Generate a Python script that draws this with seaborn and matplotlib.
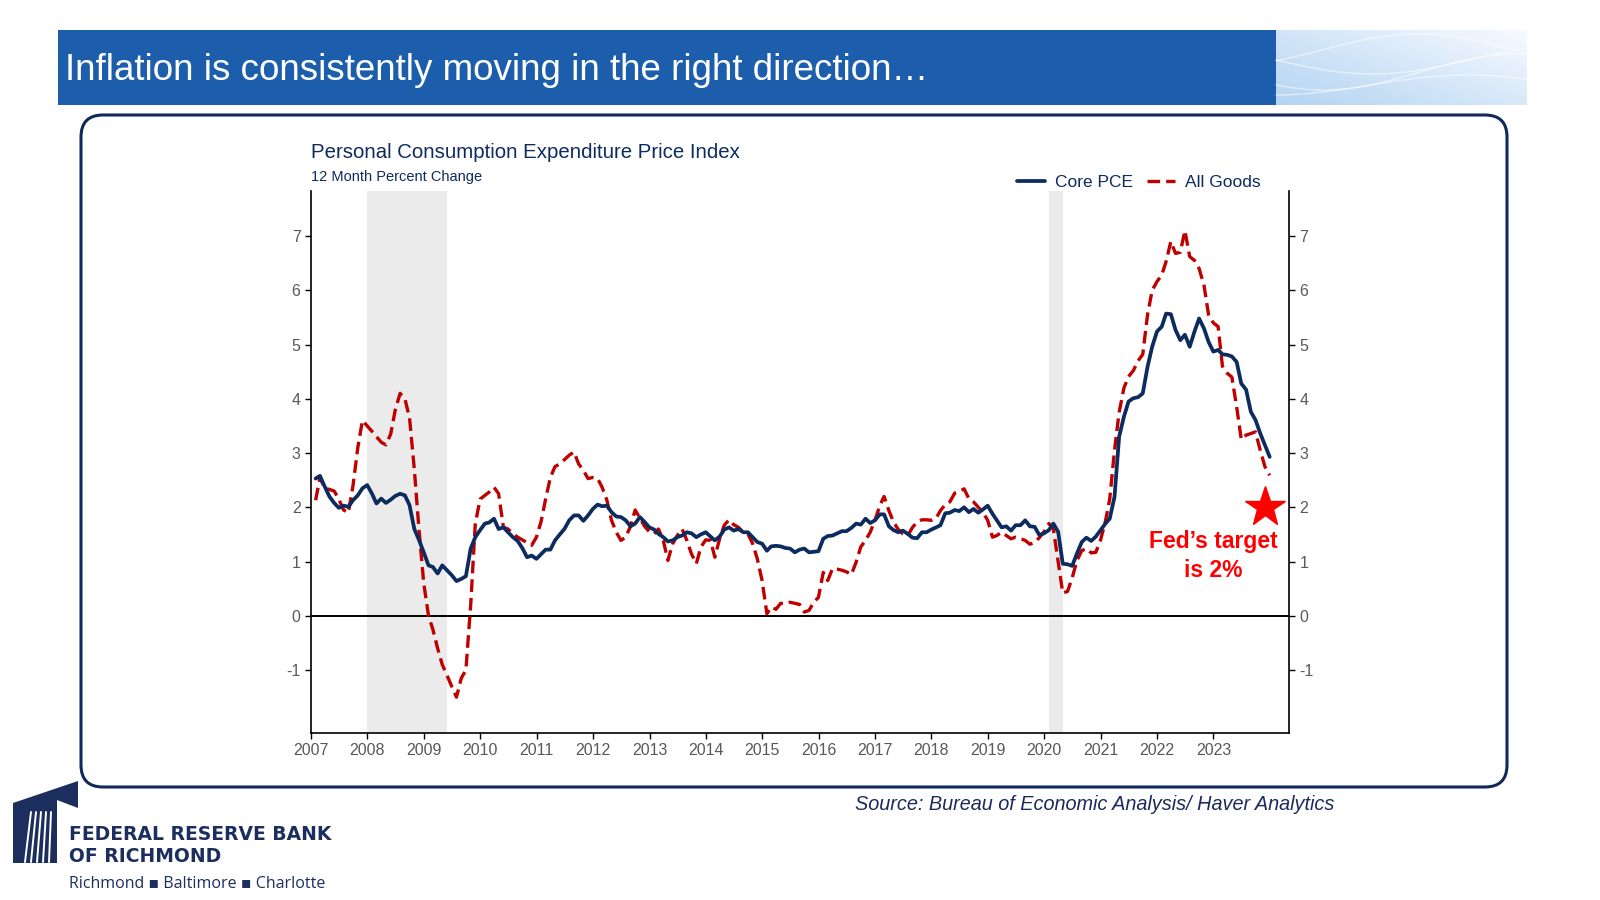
import numpy as np
import pandas as pd
import matplotlib
matplotlib.use('Agg')
import matplotlib.pyplot as plt
from matplotlib.patches import FancyBboxPatch, Rectangle, Polygon
import seaborn as sns

# ---------- data: 12 month percent change, Jan 2007 - Dec 2023 ----------
core_pce = [
    2.53, 2.58, 2.38, 2.20, 2.08, 1.99, 2.03, 2.01, 2.13, 2.22, 2.35, 2.41,  # 2007
    2.25, 2.07, 2.16, 2.08, 2.14, 2.21, 2.25, 2.22, 2.04, 1.60, 1.40, 1.17,  # 2008
    0.93, 0.90, 0.78, 0.93, 0.84, 0.75, 0.64, 0.68, 0.73, 1.24, 1.45, 1.58,  # 2009
    1.70, 1.72, 1.79, 1.60, 1.63, 1.54, 1.45, 1.38, 1.25, 1.08, 1.11, 1.05,  # 2010
    1.14, 1.22, 1.22, 1.39, 1.50, 1.60, 1.76, 1.85, 1.85, 1.75, 1.85, 1.97,  # 2011
    2.05, 2.02, 2.03, 1.91, 1.83, 1.82, 1.76, 1.65, 1.70, 1.82, 1.73, 1.63,  # 2012
    1.59, 1.51, 1.45, 1.37, 1.39, 1.45, 1.48, 1.54, 1.52, 1.45, 1.50, 1.54,  # 2013
    1.46, 1.39, 1.46, 1.59, 1.63, 1.57, 1.60, 1.54, 1.54, 1.45, 1.36, 1.33,  # 2014
    1.20, 1.28, 1.29, 1.28, 1.25, 1.24, 1.17, 1.22, 1.24, 1.17, 1.18, 1.19,  # 2015
    1.42, 1.47, 1.48, 1.52, 1.56, 1.56, 1.62, 1.70, 1.68, 1.79, 1.71, 1.76,  # 2016
    1.87, 1.87, 1.65, 1.58, 1.54, 1.57, 1.51, 1.44, 1.43, 1.54, 1.54, 1.59,  # 2017
    1.63, 1.67, 1.89, 1.90, 1.95, 1.93, 2.00, 1.91, 1.97, 1.90, 1.96, 2.03,  # 2018
    1.88, 1.76, 1.63, 1.65, 1.57, 1.67, 1.67, 1.76, 1.65, 1.64, 1.49, 1.52,  # 2019
    1.58, 1.70, 1.55, 0.96, 0.95, 0.92, 1.15, 1.36, 1.44, 1.38, 1.46, 1.58,  # 2020
    1.70, 1.79, 2.19, 3.30, 3.67, 3.95, 4.01, 4.03, 4.10, 4.59, 4.96, 5.24,  # 2021
    5.33, 5.57, 5.56, 5.27, 5.08, 5.18, 4.96, 5.24, 5.48, 5.30, 5.05, 4.87,  # 2022
    4.90, 4.82, 4.81, 4.78, 4.68, 4.28, 4.17, 3.76, 3.61, 3.36, 3.15, 2.93,  # 2023
]
all_goods = [
    2.13, 2.55, 2.35, 2.33, 2.30, 2.15, 1.95, 1.90, 2.40, 3.10, 3.60, 3.50,  # 2007
    3.40, 3.30, 3.20, 3.15, 3.35, 3.80, 4.10, 4.00, 3.65, 2.70, 1.60, 0.60,  # 2008
    0.00, -0.25, -0.60, -0.90, -1.10, -1.30, -1.50, -1.15, -1.00, 0.20, 1.70, 2.15,  # 2009
    2.22, 2.28, 2.37, 2.25, 1.63, 1.60, 1.51, 1.45, 1.40, 1.35, 1.30, 1.45,  # 2010
    1.75, 2.15, 2.55, 2.75, 2.80, 2.88, 2.96, 3.02, 2.80, 2.68, 2.53, 2.55,  # 2011
    2.53, 2.37, 2.13, 1.76, 1.54, 1.39, 1.45, 1.65, 1.95, 1.80, 1.65, 1.55,  # 2012
    1.51, 1.60, 1.39, 1.02, 1.33, 1.48, 1.60, 1.39, 1.14, 0.96, 1.27, 1.40,  # 2013
    1.39, 1.08, 1.42, 1.67, 1.77, 1.68, 1.63, 1.54, 1.51, 1.33, 1.05, 0.65,  # 2014
    0.04, 0.16, 0.12, 0.23, 0.22, 0.25, 0.23, 0.21, 0.07, 0.10, 0.25, 0.34,  # 2015
    0.80, 0.65, 0.87, 0.86, 0.84, 0.81, 0.76, 0.99, 1.27, 1.39, 1.54, 1.76,  # 2016
    2.03, 2.20, 1.94, 1.73, 1.59, 1.51, 1.48, 1.63, 1.73, 1.77, 1.77, 1.76,  # 2017
    1.80, 1.94, 2.05, 2.10, 2.26, 2.29, 2.34, 2.16, 2.10, 2.00, 1.91, 1.76,  # 2018
    1.45, 1.48, 1.54, 1.48, 1.42, 1.45, 1.42, 1.39, 1.32, 1.35, 1.44, 1.55,  # 2019
    1.70, 1.60, 1.00, 0.42, 0.45, 0.70, 1.02, 1.20, 1.24, 1.16, 1.17, 1.40,  # 2020
    1.74, 2.15, 3.05, 3.75, 4.20, 4.41, 4.52, 4.70, 4.82, 5.55, 6.00, 6.16,  # 2021
    6.28, 6.53, 6.90, 6.68, 6.70, 7.10, 6.62, 6.55, 6.40, 6.10, 5.55, 5.40,  # 2022
    5.33, 4.60, 4.47, 4.40, 3.85, 3.25, 3.33, 3.36, 3.39, 3.05, 2.75, 2.59,  # 2023
]
start_month = '2007-01-01'
year_ticks = list(range(2007, 2024))
y_ticks = list(range(-1, 8))
recessions = [('2008-01-01', '2009-06-01'), ('2020-02-01', '2020-05-01')]
fed_target = 2.0
target_date = '2023-12-01'

# colours
NAVY = '#0C2B5E'
RED = '#C00000'
HEADER_BLUE = '#1C5EAB'

months = pd.date_range(start_month, periods=len(core_pce), freq='MS') + pd.offsets.MonthEnd(0)
df = pd.DataFrame({'date': months, 'Core PCE': core_pce, 'All Goods': all_goods})

# ---------- figure + slide decorations ----------
sns.set_theme(style='white')
plt.rcParams['font.family'] = ['Liberation Sans', 'DejaVu Sans']

fig = plt.figure(figsize=(16, 9), dpi=100)
bg = fig.add_axes([0, 0, 1, 1])
bg.axis('off')

# header band
bg.add_patch(Rectangle((58, 30), 1218, 75, color=HEADER_BLUE, lw=0))
gx = np.linspace(0, 1, 300)
gy = np.linspace(0, 1, 80)[:, None]
t = np.clip(0.55 * gx[None, :] + 0.45 * (1 - gy), 0, 1)
c0 = np.array([0.70, 0.83, 0.95])
c1 = np.array([0.97, 0.98, 1.00])
grad = c0[None, None, :] * (1 - t[..., None]) + c1[None, None, :] * t[..., None]
bg.imshow(grad, extent=[1276, 1527, 105, 30], aspect='auto', zorder=1)
wx = np.linspace(1276, 1527, 200)
for amp, off, ph in [(14, 60, 0.0), (18, 72, 0.8), (10, 85, 1.6), (16, 50, 2.4)]:
    wy = off + amp * np.sin((wx - 1276) / 251 * np.pi * 1.3 + ph)
    bg.plot(wx, np.clip(wy, 31, 104), color='white', lw=1.0, alpha=0.55, zorder=2)
bg.text(65, 70, 'Inflation is consistently moving in the right direction…',
        color='white', fontsize=26.5, va='center', ha='left')

# rounded frame around the chart
bg.add_patch(FancyBboxPatch((81, 115), 1426, 672, boxstyle='round,pad=0,rounding_size=22',
                            fc='none', ec='#0F2A5A', lw=2.2))

# source
bg.text(1334, 805, 'Source: Bureau of Economic Analysis/ Haver Analytics', ha='right',
        va='center', style='italic', fontsize=14.3, color='#1B2A5C')

# logo
LOGO = '#1B2E5E'
bg.add_patch(Polygon([(13, 803), (78, 781), (78, 808), (57, 800), (57, 863), (13, 863)],
                     closed=True, color=LOGO, lw=0))
for xb, xt in [(25, 31), (31, 36), (37, 41), (43, 46), (49, 51)]:
    bg.plot([xb, xt], [862, 812], color='white', lw=1.4)
bg.text(69, 835, 'FEDERAL RESERVE BANK', fontsize=13.5, fontweight='bold', color=LOGO,
        va='center', family='DejaVu Sans')
bg.text(69, 856, 'OF RICHMOND', fontsize=13.5, fontweight='bold', color=LOGO,
        va='center', family='DejaVu Sans')
bg.text(69, 884, 'Richmond ▪ Baltimore ▪ Charlotte', fontsize=11.5, color=LOGO,
        va='center', family=['Open Sans', 'DejaVu Sans'])

bg.set_xlim(0, 1600)
bg.set_ylim(900, 0)

# ---------- chart ----------
ax = fig.add_axes([311 / 1600, 1 - 733 / 900, (1289 - 311) / 1600, (733 - 191) / 900])
ax.patch.set_alpha(0)

for start, end in recessions:
    ax.axvspan(pd.Timestamp(start), pd.Timestamp(end), color='#EBEBEB', lw=0, zorder=0)

ax.axhline(0, color='black', lw=1.4, zorder=1)

sns.lineplot(data=df, x='date', y='All Goods', ax=ax, color=RED, lw=2.4, label='All Goods', zorder=3)
ax.lines[-1].set_dashes([3.8, 1.8])
sns.lineplot(data=df, x='date', y='Core PCE', ax=ax, color=NAVY, lw=2.7, label='Core PCE', zorder=4)

# Fed target marker
ax.plot(pd.Timestamp(target_date), fed_target, marker='*', ms=30, color='#FF0000',
        clip_on=False, zorder=5)
ax.text(pd.Timestamp('2023-01-01'), 1.58, 'Fed’s target\nis 2%', color='#FF0000',
        fontweight='bold', fontsize=16.5, ha='center', va='top', linespacing=1.35)

ax.set_xlim(pd.Timestamp('2007-01-01'), pd.Timestamp('2024-05-04'))
ax.set_ylim(-2.16, 7.83)
ax.set_xticks([pd.Timestamp(f'{y}-01-01') for y in year_ticks])
ax.set_xticklabels([str(y) for y in year_ticks])
ax.set_yticks(y_ticks)
ax.set_yticklabels([str(v) for v in y_ticks])
ax.set_xlabel('')
ax.set_ylabel('')

for side in ['left', 'right', 'bottom']:
    ax.spines[side].set_visible(True)
    ax.spines[side].set_color('black')
    ax.spines[side].set_linewidth(1.2)
ax.spines['top'].set_visible(False)
ax.tick_params(axis='both', direction='out', length=4, width=1, color='black',
               labelsize=11.5, labelcolor='#595959', bottom=True, left=True)
ax.tick_params(axis='y', right=True, labelright=True)

# title + subtitle
fig.text(311 / 1600, 1 - 153 / 900, 'Personal Consumption Expenditure Price Index',
         fontsize=14.7, color=NAVY, va='center', ha='left')
fig.text(311 / 1600, 1 - 177 / 900, '12 Month Percent Change',
         fontsize=10.5, color=NAVY, va='center', ha='left')

handles, labels = ax.get_legend_handles_labels()
leg = ax.legend(handles[::-1], labels[::-1], ncol=2, frameon=False, loc='center right',
                bbox_to_anchor=(1261 / 1600, 1 - 182.5 / 900), bbox_transform=fig.transFigure,
                fontsize=12.5, handlelength=1.6, handletextpad=0.6, columnspacing=0.8,
                borderpad=0, borderaxespad=0)
for txt in leg.get_texts():
    txt.set_color(NAVY)

fig.savefig('out.png', dpi=100)
